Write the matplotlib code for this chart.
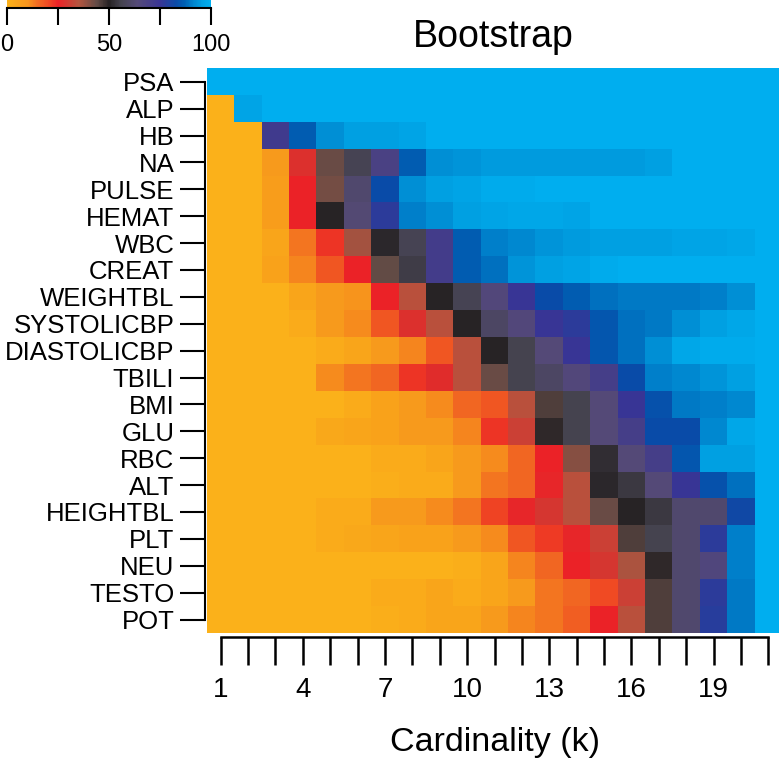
import numpy as np
import matplotlib
matplotlib.use("Agg")
import matplotlib.pyplot as plt
from matplotlib.colors import LinearSegmentedColormap

plt.rcParams['font.family'] = ['Liberation Sans', 'DejaVu Sans']

features = ["PSA", "ALP", "HB", "NA", "PULSE", "HEMAT", "WBC", "CREAT", "WEIGHTBL",
            "SYSTOLICBP", "DIASTOLICBP", "TBILI", "BMI", "GLU", "RBC", "ALT",
            "HEIGHTBL", "PLT", "NEU", "TESTO", "POT"]
k_values = list(range(1, 22))
k_tick_labels = ["1", "4", "7", "10", "13", "16", "19"]

PSA = [100] * 21
ALP = [0, 97] + [100] * 19
HB = [0, 0, 72, 86, 93, 96, 96, 97, 100, 100, 100, 100, 100, 100, 100, 100, 100, 100, 100, 100, 100]
NA = [0, 0, 8, 28, 43, 57, 68, 86, 93, 94, 95, 95, 95, 95, 95, 95, 96, 100, 100, 100, 100]
PULSE = [0, 0, 7, 25, 42, 62, 83, 93, 96, 97, 99, 99, 100, 100, 100, 100, 100, 100, 100, 100, 100]
HEMAT = [0, 0, 7, 25, 50, 63, 77, 91, 93, 96, 97, 98, 98, 97, 100, 100, 100, 100, 100, 100, 100]
WBC = [0, 0, 4, 14, 23, 37, 51, 57, 71, 86, 91, 92, 94, 95, 96, 96, 96, 97, 97, 98, 100]
CREAT = [0, 0, 5, 12, 18, 25, 44, 55, 71, 86, 89, 94, 96, 97, 99, 100, 100, 100, 100, 100, 100]
WEIGHTBL = [0, 0, 0, 4, 8, 10, 25, 34, 50, 57, 65, 75, 83, 86, 89, 90, 90, 90, 91, 93, 100]
SYSTOLICBP = [0, 0, 0, 2, 8, 11, 18, 28, 34, 50, 60, 65, 75, 77, 85, 89, 90, 93, 96, 98, 100]
DIASTOLICBP = [0, 0, 0, 0, 2, 4, 8, 12, 18, 34, 50, 56, 64, 75, 85, 89, 93, 98, 99, 99, 100]
TBILI = [0, 0, 0, 0, 11, 14, 16, 23, 27, 34, 43, 56, 60, 65, 70, 83, 91, 92, 94, 96, 100]
BMI = [0, 0, 0, 0, 0, 2, 5, 8, 11, 16, 18, 34, 46, 56, 64, 75, 84, 90, 91, 92, 100]
GLU = [0, 0, 0, 0, 3, 4, 5, 8, 8, 12, 23, 31, 49, 56, 64, 70, 83, 83, 92, 98, 100]
RBC = [0, 0, 0, 0, 0, 0, 2, 2, 4, 8, 11, 16, 25, 40, 52, 64, 70, 85, 96, 96, 100]
ALT = [0, 0, 0, 0, 0, 0, 1, 2, 2, 8, 14, 16, 26, 34, 51, 54, 64, 75, 84, 89, 100]
HEIGHTBL = [0, 0, 0, 0, 2, 2, 8, 8, 11, 14, 21, 26, 29, 34, 43, 50, 54, 62, 62, 82, 100]
PLT = [0, 0, 0, 0, 2, 3, 4, 5, 5, 8, 11, 18, 22, 26, 31, 46, 56, 62, 77, 91, 100]
NEU = [0, 0, 0, 0, 0, 0, 0, 0, 0, 1, 4, 12, 16, 25, 29, 36, 49, 62, 66, 91, 100]
TESTO = [0, 0, 0, 0, 0, 0, 2, 2, 4, 2, 4, 8, 14, 16, 20, 31, 46, 62, 77, 90, 100]
POT = [0, 0, 0, 0, 0, 0, 1, 2, 4, 4, 8, 12, 14, 17, 25, 34, 46, 62, 78, 90, 100]

data = np.array([PSA, ALP, HB, NA, PULSE, HEMAT, WBC, CREAT, WEIGHTBL, SYSTOLICBP,
                 DIASTOLICBP, TBILI, BMI, GLU, RBC, ALT, HEIGHTBL, PLT, NEU, TESTO, POT],
                dtype=float)

cmap = LinearSegmentedColormap.from_list("boot", [
    (0.00, "#FBB11A"),
    (0.05, "#F9A21B"),
    (0.10, "#F7941D"),
    (0.15, "#F26B22"),
    (0.20, "#F04A23"),
    (0.25, "#EC2227"),
    (0.35, "#B5553F"),
    (0.44, "#624B46"),
    (0.50, "#262224"),
    (0.56, "#45434F"),
    (0.64, "#554A78"),
    (0.75, "#3A3595"),
    (0.83, "#0A4BA8"),
    (0.87, "#0060B4"),
    (0.92, "#0088D0"),
    (0.96, "#00A0E2"),
    (1.00, "#00AEEF"),
])

W, H = 779, 759
fig = plt.figure(figsize=(W / 100, H / 100), dpi=100)

def px_axes(x0, y0, x1, y1):
    return fig.add_axes([x0 / W, 1 - y1 / H, (x1 - x0) / W, (y1 - y0) / H])

ax = px_axes(207, 68.3, 782, 633)
n_rows, n_cols = data.shape
im = ax.imshow(data, cmap=cmap, vmin=0, vmax=100, aspect='auto', interpolation='nearest',
               extent=(0.5, n_cols + 0.5, n_rows + 0.5, 0.5))
ax.set_xlim(0.5, n_cols + 0.5)
ax.set_ylim(n_rows + 0.5, 0.5)

for s in ['top', 'right']:
    ax.spines[s].set_visible(False)
ax.spines['left'].set_bounds(1, n_rows)
ax.spines['left'].set_position(('outward', 1.5))
ax.spines['left'].set_linewidth(1.5)
ax.spines['bottom'].set_bounds(1, n_cols)
ax.spines['bottom'].set_position(('outward', 3))
ax.spines['bottom'].set_linewidth(1.8)

ax.set_yticks(np.arange(1, n_rows + 1))
ax.set_yticklabels(features)
ax.tick_params(axis='y', direction='out', length=18, width=1.5, pad=4, labelsize=18.5)
ax.set_xticks(k_values)
ax.set_xticklabels([str(k) if str(k) in k_tick_labels else "" for k in k_values])
ax.tick_params(axis='x', direction='out', length=20, width=1.8, pad=9, labelsize=20)

ax.set_xlabel("Cardinality (k)", fontsize=24.5)
ax.xaxis.set_label_coords((495 - 207) / (782 - 207), (633 - 743) / (633 - 68.3))
ax.xaxis.label.set_va('center')

fig.text(493 / W, 1 - 47 / H, "Bootstrap", fontsize=27, ha='center', va='baseline')

cax = px_axes(7, -10, 211, 8)
cb = fig.colorbar(im, cax=cax, orientation='horizontal')
cb.outline.set_visible(False)
cax.spines['bottom'].set_visible(True)
cax.spines['bottom'].set_linewidth(1.5)
cb.set_ticks([0, 25, 50, 75, 100])
cb.set_ticklabels(["0", "", "50", "", "100"])
cax.tick_params(axis='x', direction='out', length=12, width=1.5, pad=7, labelsize=17,
                bottom=True, top=False)

fig.savefig("out.png", dpi=100)
